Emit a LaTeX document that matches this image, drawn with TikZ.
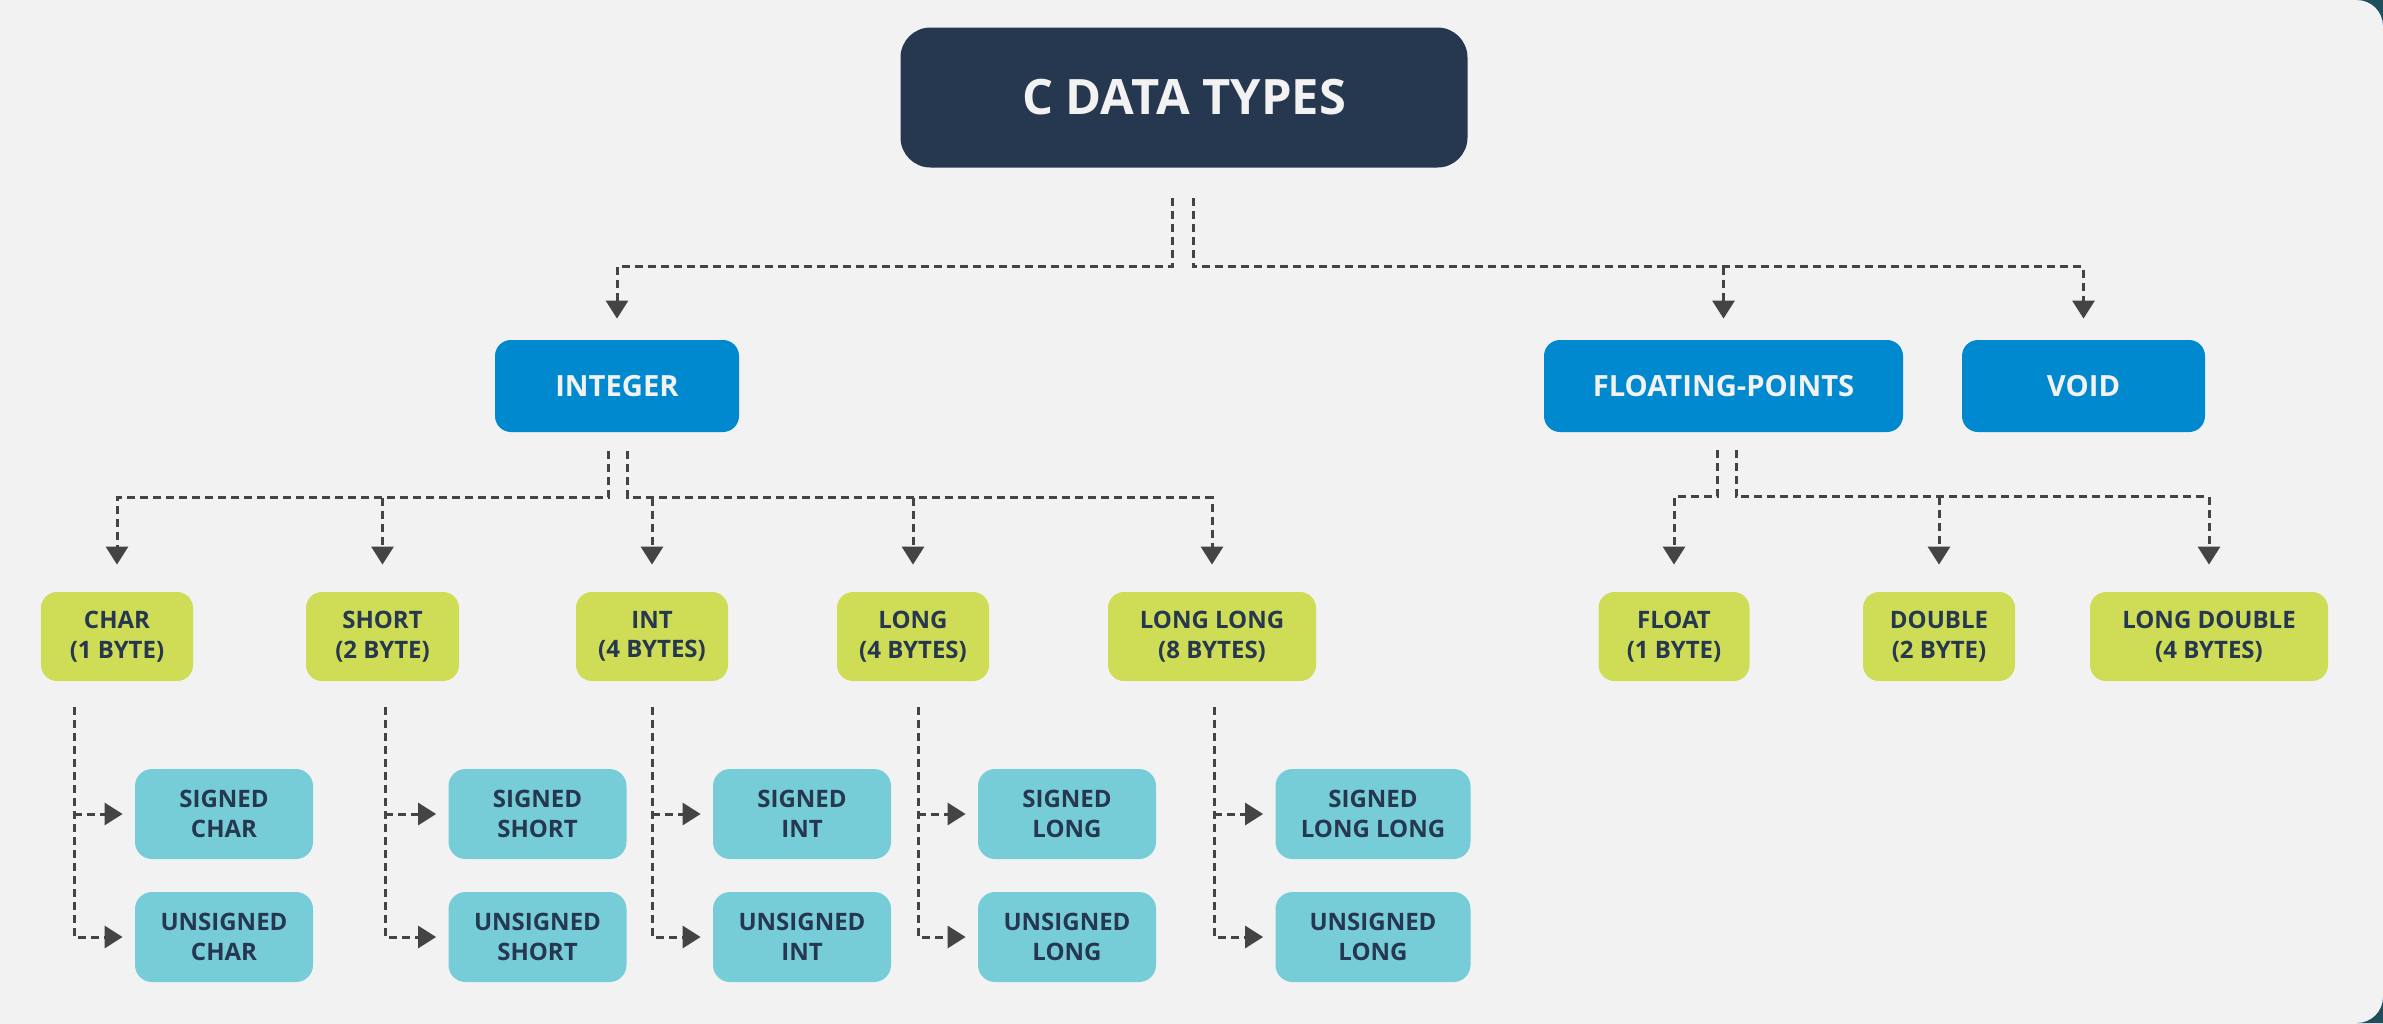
\documentclass[tikz,border=0pt]{standalone}
\usepackage{fontspec}
\setmainfont{Open Sans}
\usetikzlibrary{arrows.meta,calc}
\definecolor{bgc}{HTML}{F2F2F2}
\definecolor{edgec}{HTML}{1F4F5C}
\definecolor{navy}{HTML}{263750}
\definecolor{catblue}{HTML}{0089CF}
\definecolor{lime}{HTML}{CFDC56}
\definecolor{aqua}{HTML}{76CDD8}
\definecolor{dgray}{HTML}{444444}
\tikzset{
  topbox/.style={fill=navy, rounded corners=15pt, minimum width=283.5pt, minimum height=70pt,
    text=bgc, font=\bfseries\fontsize{24.4}{28}\selectfont, inner sep=0pt},
  catbox/.style={fill=catblue, rounded corners=8pt, minimum height=46pt,
    text=bgc, font=\bfseries\fontsize{14.6}{17}\selectfont, inner sep=0pt},
  sizebox/.style={fill=lime, rounded corners=8pt, minimum height=44.5pt, align=center,
    text=navy, font=\bfseries\fontsize{12}{14.8}\selectfont, inner sep=0pt},
  subbox/.style={fill=aqua, rounded corners=8.5pt, minimum height=45pt, minimum width=89pt, align=center,
    text=navy, font=\bfseries\fontsize{12}{14.8}\selectfont, inner sep=0pt},
  conn/.style={draw=dgray, line width=1.5pt, dash pattern=on 4pt off 2.5pt,
    -{Triangle[width=11pt,length=9pt,fill=dgray]}},
}
\begin{document}
\begin{tikzpicture}[x=0.5pt,y=-0.5pt]
\useasboundingbox (0,0) rectangle (2383,1023);
\fill[bgc] (-5,-5) rectangle (2388,1028);
\fill[edgec] (2383,0) -- (2357,0) .. controls (2371.4,0) and (2383,11.6) .. (2383,26) -- cycle;
\fill[edgec] (2383,1023) -- (2357,1023) .. controls (2371.4,1023) and (2383,1011.4) .. (2383,997) -- cycle;

% nodes
\node[topbox] (top) at (1184,97.5) {C DATA TYPES};
\node[catbox, minimum width=122pt] (integer) at (617,386) {INTEGER};
\node[catbox, minimum width=179.5pt] (floating) at (1723.5,386) {FLOATING-POINTS};
\node[catbox, minimum width=121.5pt] (void) at (2083.5,386) {VOID};

\node[sizebox, minimum width=76pt] (char) at (117,636.5) {CHAR\\(1 BYTE)};
\node[sizebox, minimum width=76.5pt] (short) at (382.5,636.5) {SHORT\\(2 BYTE)};
\node[sizebox, minimum width=76pt] (int) at (652,636.5) {INT\\(4 BYTES)};
\node[sizebox, minimum width=76pt] (long) at (913,636.5) {LONG\\(4 BYTES)};
\node[sizebox, minimum width=104pt] (longlong) at (1212,636.5) {LONG LONG\\(8 BYTES)};
\node[sizebox, minimum width=75.5pt] (float) at (1674,636.5) {FLOAT\\(1 BYTE)};
\node[sizebox, minimum width=76pt] (double) at (1939,636.5) {DOUBLE\\(2 BYTE)};
\node[sizebox, minimum width=119pt] (longdouble) at (2209,636.5) {LONG DOUBLE\\(4 BYTES)};

\node[subbox] (schar) at (224,814) {SIGNED\\CHAR};
\node[subbox] (uchar) at (224,937) {UNSIGNED\\CHAR};
\node[subbox] (sshort) at (537.5,814) {SIGNED\\SHORT};
\node[subbox] (ushort) at (537.5,937) {UNSIGNED\\SHORT};
\node[subbox] (sint) at (802,814) {SIGNED\\INT};
\node[subbox] (uint) at (802,937) {UNSIGNED\\INT};
\node[subbox] (slong) at (1067,814) {SIGNED\\LONG};
\node[subbox] (ulong) at (1067,937) {UNSIGNED\\LONG};
\node[subbox, minimum width=97.5pt] (slonglong) at (1373,814) {SIGNED\\LONG LONG};
\node[subbox, minimum width=97.5pt] (ulonglong) at (1373,937) {UNSIGNED\\LONG};

% top level connectors
\coordinate (tl) at (1172,198);
\coordinate (tr) at (1193,198);
\draw[conn] (tl) |- ($(integer.north)+(0,-73)$) -- ($(integer.north)+(0,-21)$);
\draw[conn] (tr) |- ($(void.north)+(0,-73)$) -- ($(void.north)+(0,-21)$);
\draw[conn] ($(floating.north)+(0,-73)$) -- ($(floating.north)+(0,-21)$);

% integer level
\coordinate (il) at (608.5,451);
\coordinate (ir) at (627.5,451);
\draw[conn] (il) |- ($(char.north)+(0,-94)$) -- ($(char.north)+(0,-27)$);
\draw[conn] ($(short.north)+(0,-94)$) -- ($(short.north)+(0,-27)$);
\draw[conn] (ir) |- ($(longlong.north)+(0,-94)$) -- ($(longlong.north)+(0,-27)$);
\draw[conn] ($(int.north)+(0,-94)$) -- ($(int.north)+(0,-27)$);
\draw[conn] ($(long.north)+(0,-94)$) -- ($(long.north)+(0,-27)$);

% floating level
\coordinate (fl) at (1717,450);
\coordinate (fr) at (1736,450);
\draw[conn] (fl) |- ($(float.north)+(0,-95)$) -- ($(float.north)+(0,-27)$);
\draw[conn] (fr) |- ($(longdouble.north)+(0,-95)$) -- ($(longdouble.north)+(0,-27)$);
\draw[conn] ($(double.north)+(0,-95)$) -- ($(double.north)+(0,-27)$);

% sub-type columns
\coordinate (c1) at (74,707);
\coordinate (c2) at (385,707);
\coordinate (c3) at (652,707);
\coordinate (c4) at (918,707);
\coordinate (c5) at (1214,707);
\draw[conn] (c1) |- ([xshift=-6pt]uchar.west);
\draw[conn] (c1 |- schar.west) -- ([xshift=-6pt]schar.west);
\draw[conn] (c2) |- ([xshift=-6pt]ushort.west);
\draw[conn] (c2 |- sshort.west) -- ([xshift=-6pt]sshort.west);
\draw[conn] (c3) |- ([xshift=-6pt]uint.west);
\draw[conn] (c3 |- sint.west) -- ([xshift=-6pt]sint.west);
\draw[conn] (c4) |- ([xshift=-6pt]ulong.west);
\draw[conn] (c4 |- slong.west) -- ([xshift=-6pt]slong.west);
\draw[conn] (c5) |- ([xshift=-6pt]ulonglong.west);
\draw[conn] (c5 |- slonglong.west) -- ([xshift=-6pt]slonglong.west);
\end{tikzpicture}
\end{document}
